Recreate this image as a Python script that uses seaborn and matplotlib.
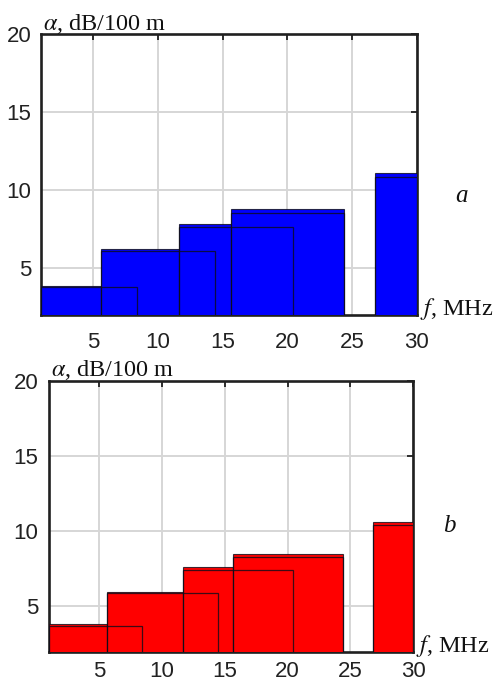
import numpy as np
import pandas as pd
import matplotlib
matplotlib.use("Agg")
import matplotlib.pyplot as plt
import seaborn as sns

# ---- data ----
# frequency band edges (MHz) of the upper (envelope) bars
edges = [1.0, 5.6, 11.65, 15.65, 24.4, 26.8, 30.0]
# envelope heights, dB/100 m (0 = no bar in the 24.4-26.8 gap)
alpha_a = [3.84, 6.16, 7.80, 8.74, 0.0, 11.06]
alpha_b = [3.78, 5.93, 7.56, 8.47, 0.0, 10.58]
# overlapping frequency windows drawn as outlines
win_left = [1.0, 5.6, 11.65, 15.65, 26.8]
win_right = [8.42, 14.45, 20.45, 24.4, 30.0]
win_a = [3.74, 6.06, 7.59, 8.48, 10.80]
win_b = [3.67, 5.84, 7.40, 8.23, 10.36]

xticks = [5, 10, 15, 20, 25, 30]
yticks = [5, 10, 15, 20]
panel_labels = ["a", "b"]

sns.set_style("white")
plt.rcParams["font.family"] = ["Liberation Sans", "DejaVu Sans"]
plt.rcParams["mathtext.fontset"] = "stix"

W, H = 495, 682
fig = plt.figure(figsize=(W / 100, H / 100), dpi=100)

# axes rectangles in pixels: left, top, right, bottom
boxes = [(41.3, 34.0, 416.7, 315.0), (49.0, 380.7, 413.3, 651.7)]
colors = ["#0000ff", "#ff0000"]
heights = [alpha_a, alpha_b]
wins = [win_a, win_b]
label_pos = [(462, 196), (449, 526)]
xpads = [12.5, 6.5]
ypads = [7.0, 7.5]

centers = [(edges[i] + edges[i + 1]) / 2 for i in range(len(edges) - 1)]
ec = (0.05, 0.05, 0.1, 0.8)

for k in range(2):
    l, t, r, b = boxes[k]
    ax = fig.add_axes([l / W, 1 - b / H, (r - l) / W, (b - t) / H])
    df = pd.DataFrame({"f": centers, "a": heights[k]})
    sns.histplot(data=df, x="f", weights="a", bins=edges, ax=ax,
                 color=colors[k], alpha=1.0, edgecolor=ec,
                 linewidth=0.8, zorder=3)
    widths = [win_right[i] - win_left[i] for i in range(len(win_left))]
    ax.bar(win_left, wins[k], width=widths, align="edge", fill=False,
           edgecolor=ec, linewidth=0.9, zorder=3.2)
    ax.set_xlim(1, 30)
    ax.set_ylim(1.95, 20)
    ax.set_xticks(xticks)
    ax.set_yticks(yticks)
    ax.set_xlabel("")
    ax.set_ylabel("")
    ax.set_axisbelow(True)
    ax.grid(True, color="#d6d6d6", linewidth=1.4)
    for s in ax.spines.values():
        s.set_visible(True)
        s.set_color("#202020")
        s.set_linewidth(1.9)
    ax.tick_params(direction="in", top=True, right=True, length=4, width=1.3,
                   color="#202020", labelsize=16, labelcolor="#222222")
    ax.tick_params(axis="x", pad=xpads[k])
    ax.tick_params(axis="y", pad=ypads[k])
    ax.annotate(r"$\alpha$, dB/100 m", xy=(0, 1), xycoords="axes fraction",
                xytext=(2, 4.5), textcoords="offset pixels",
                ha="left", va="baseline", fontsize=17.5,
                family="Liberation Serif", color="#111111")
    ax.annotate(r"$f$, MHz", xy=(1, 0), xycoords="axes fraction",
                xytext=(3, 0), textcoords="offset pixels",
                ha="left", va="baseline", fontsize=17.5,
                family="Liberation Serif", color="#111111")
    px, py = label_pos[k]
    fig.text(px / W, 1 - py / H, panel_labels[k], ha="center", va="center",
             fontsize=18, family="Liberation Serif", style="italic",
             color="#111111")

fig.savefig("out.png", dpi=100)
